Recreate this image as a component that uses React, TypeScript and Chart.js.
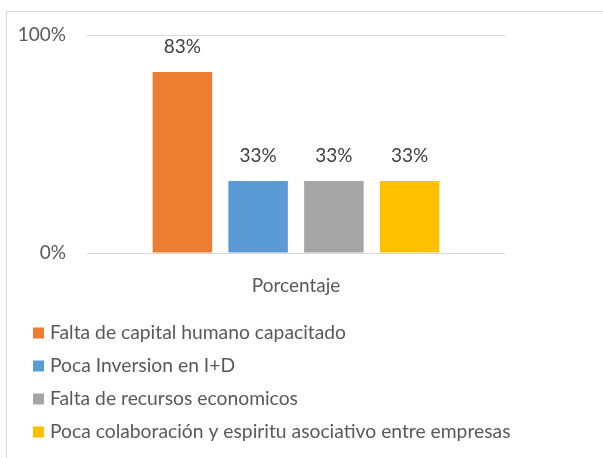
import React, { useEffect, useRef } from "react";
import { Chart, registerables } from "chart.js";

Chart.register(...registerables);

const categories = ["Porcentaje"];
const seriesNames = [
  "Falta de capital humano capacitado",
  "Poca Inversion en I+D",
  "Falta de recursos economicos",
  "Poca colaboración y espiritu asociativo entre empresas",
];
const seriesValues = [0.83, 0.33, 0.33, 0.33];
const seriesColors = ["#ED7D31", "#5B9BD5", "#A5A5A5", "#FFC000"];
const yTicks = [0, 1];

const FONT = "Lato, 'Open Sans', sans-serif";
const FS = 19;
const LEGEND_FS = 19.3;

const valueLabels = {
  id: "valueLabels",
  afterDatasetsDraw(chart: any) {
    const ctx = chart.ctx;
    ctx.save();
    ctx.font = `${FS}px ${FONT}`;
    ctx.fillStyle = "#404040";
    ctx.textAlign = "center";
    ctx.textBaseline = "middle";
    chart.data.datasets.forEach((ds: any, i: number) => {
      const meta = chart.getDatasetMeta(i);
      meta.data.forEach((bar: any, j: number) => {
        const v = ds.data[j];
        ctx.fillText(Math.round(v * 100) + "%", bar.x, bar.y - 25);
      });
    });
    ctx.restore();
  },
};

const customLegend = {
  id: "customLegend",
  afterDraw(chart: any) {
    const ctx = chart.ctx;
    ctx.save();
    ctx.font = `${LEGEND_FS}px ${FONT}`;
    ctx.textAlign = "left";
    ctx.textBaseline = "middle";
    chart.data.datasets.forEach((ds: any, i: number) => {
      const y = 333 + i * 33;
      ctx.fillStyle = ds.backgroundColor;
      ctx.fillRect(33, y - 5.5, 11, 11);
      ctx.fillStyle = "#595959";
      ctx.fillText(ds.label, 50, y);
    });
    ctx.restore();
  },
};

export default function App() {
  const ref = useRef<HTMLCanvasElement>(null);
  useEffect(() => {
    if (!ref.current) return;
    const chart = new Chart(ref.current, {
      type: "bar",
      data: {
        labels: categories,
        datasets: seriesNames.map((name, i) => ({
          label: name,
          data: [seriesValues[i]],
          backgroundColor: seriesColors[i],
          borderWidth: 0,
          categoryPercentage: 0.725,
          barPercentage: 0.785,
        })),
      },
      options: {
        animation: false,
        responsive: false,
        maintainAspectRatio: false,
        layout: { padding: { left: 0, right: 98, top: 35, bottom: 458 - 253 - 60 } },
        plugins: {
          legend: { display: false },
          tooltip: { enabled: false },
        },
        scales: {
          x: {
            grid: { display: false },
            border: { display: false },
            ticks: {
              color: "#595959",
              font: { family: FONT, size: FS },
              padding: 13,
            },
            afterFit: (s: any) => {
              s.height = 60;
            },
          },
          y: {
            min: 0,
            max: 1,
            afterBuildTicks: (s: any) => {
              s.ticks = yTicks.map((v) => ({ value: v }));
            },
            ticks: {
              color: "#595959",
              font: { family: FONT, size: FS },
              padding: 21,
              callback: (v: any) => Math.round(Number(v) * 100) + "%",
            },
            grid: { color: "#D9D9D9", lineWidth: 1, drawTicks: false },
            border: { display: false },
            afterFit: (s: any) => {
              s.width = 87;
            },
          },
        },
      },
      plugins: [valueLabels, customLegend],
    });
    return () => chart.destroy();
  }, []);

  return (
    <div style={{ position: "absolute", left: 0, top: 0, width: 603, height: 458, background: "#fff", overflow: "hidden" }}>
      <div
        style={{
          position: "absolute",
          left: 6,
          top: 11,
          width: 700,
          height: 600,
          border: "1px solid #D9D9D9",
          boxSizing: "border-box",
        }}
      />
      <canvas ref={ref} width={603} height={458} style={{ position: "absolute", left: 0, top: 0 }} />
    </div>
  );
}
